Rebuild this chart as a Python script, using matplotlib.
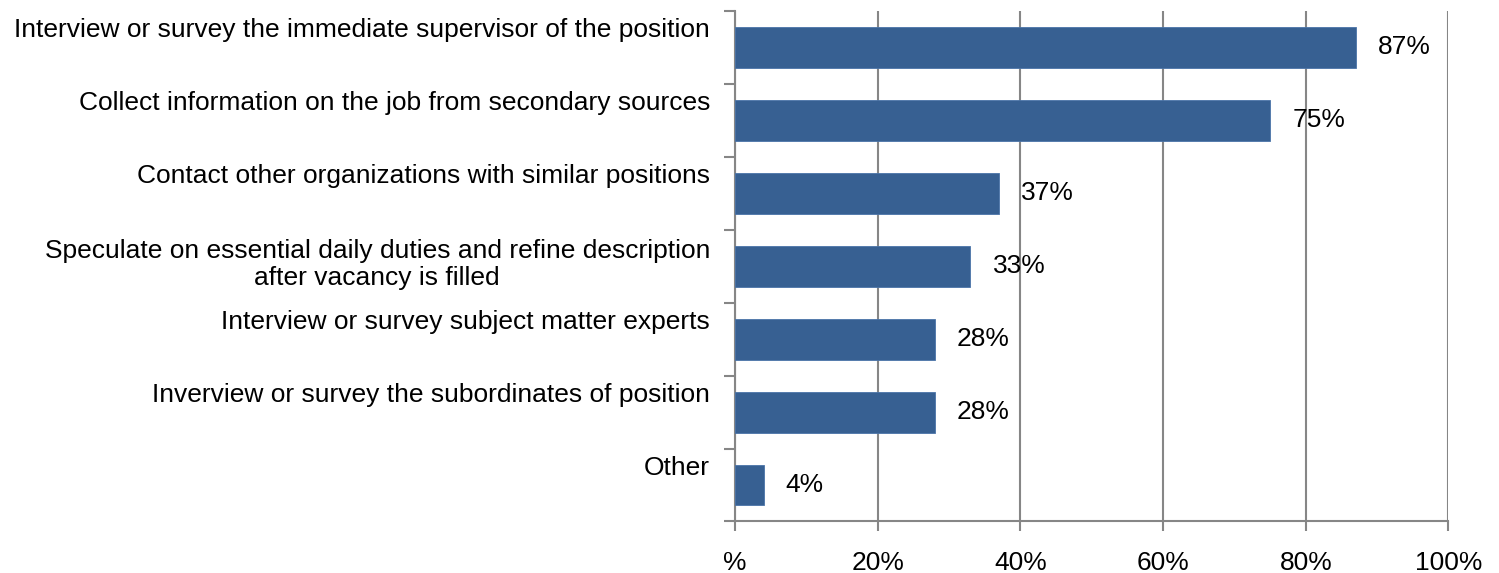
import matplotlib.pyplot as plt
from matplotlib.transforms import ScaledTranslation
import numpy as np

categories = [
    "Interview or survey the immediate supervisor of the position",
    "Collect information on the job from secondary sources",
    "Contact other organizations with similar positions",
    "Speculate on essential daily duties and refine description\nafter vacancy is filled",
    "Interview or survey subject matter experts",
    "Inverview or survey the subordinates of position",
    "Other",
]
values = [87, 75, 37, 33, 28, 28, 4]
xticks = [0, 20, 40, 60, 80, 100]
xtick_labels = ["%", "20%", "40%", "60%", "80%", "100%"]

plt.rcParams['font.family'] = ['Liberation Sans', 'DejaVu Sans']
grey = "#868686"
bar_color = "#376092"
fs = 19

fig = plt.figure(figsize=(14.99, 5.73), dpi=100)
ax = fig.add_axes([0.4903, 0.0899, 0.4760, 0.8909])

y = np.arange(len(categories))
ax.barh(y, values, height=0.56, color=bar_color, edgecolor="#4a74a8",
        linewidth=0.6, zorder=3)

ax.set_xlim(0, 100)
ax.set_ylim(len(categories) - 0.5, -0.5)

# vertical gridlines
ax.set_xticks(xticks)
ax.set_xticklabels(xtick_labels, fontsize=fs)
ax.xaxis.grid(True, color=grey, linewidth=1.5, zorder=0)
ax.tick_params(axis="x", direction="out", length=7, width=1.5, color=grey,
               pad=14)

# category labels on the band centres, tick marks on the band edges
ax.set_yticks(y)
ax.set_yticklabels(categories, fontsize=fs, multialignment="center",
                   linespacing=1.15)
ax.tick_params(axis="y", which="major", length=0, pad=18)
ax.set_yticks(np.arange(len(categories) + 1) - 0.5, minor=True)
ax.tick_params(axis="y", which="minor", direction="out", length=8, width=1.5,
               color=grey)
for lab in ax.get_yticklabels():
    nlines = lab.get_text().count("\n") + 1
    shift = (20 - 14 * (nlines - 1)) / 100
    lab.set_transform(lab.get_transform()
                      + ScaledTranslation(0, shift, fig.dpi_scale_trans))

for side in ["top", "right"]:
    ax.spines[side].set_visible(False)
for side in ["left", "bottom"]:
    ax.spines[side].set_color(grey)
    ax.spines[side].set_linewidth(1.5)

for yi, v in zip(y, values):
    ax.annotate(f"{v}%", (v, yi), xytext=(16, 0), textcoords="offset points",
                ha="left", va="center", fontsize=fs)

fig.savefig("out.png", dpi=100)
